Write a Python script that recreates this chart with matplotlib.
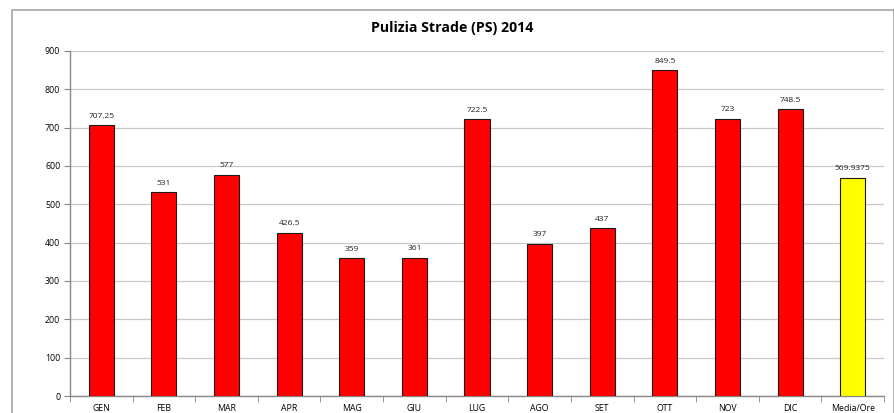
import numpy as np
import matplotlib.pyplot as plt
from matplotlib.patches import Rectangle

mesi = ["GEN", "FEB", "MAR", "APR", "MAG", "GIU", "LUG", "AGO", "SET", "OTT", "NOV", "DIC", "Media/Ore"]
ore = [707.25, 531, 577, 426.5, 359, 361, 722.5, 397, 437, 849.5, 723, 748.5, 569.9375]
etichette = ["707.25", "531", "577", "426.5", "359", "361", "722.5", "397", "437", "849.5", "723", "748.5", "569.9375"]

plt.rcParams['font.family'] = ['Open Sans', 'DejaVu Sans']

W, H = 895, 413
fig = plt.figure(figsize=(W/100, H/100), dpi=100)
ax = fig.add_axes([70/W, 1-396/H, (884-70)/W, (396-51)/H])

# bordo esterno del grafico
fig.patches.append(Rectangle((12/W, -0.1), (894-12)/W, 1.1-10/H, transform=fig.transFigure,
                             fill=False, edgecolor='#a6a6a6', linewidth=1.2))

x = np.arange(len(mesi))
colori = ['#ff0000']*(len(mesi)-1) + ['#ffff00']
ax.bar(x, ore, width=0.4, color=colori, edgecolor='#1a1a1a', linewidth=0.8, zorder=3)

for xi, v, t in zip(x, ore, etichette):
    ax.text(xi, v + 14, t, ha='center', va='bottom', fontsize=6, color='#222222')

ax.set_xlim(-0.5, len(mesi)-0.5)
ax.set_ylim(0, 900)
ax.set_yticks(np.arange(0, 901, 100))
ax.set_xticks(x)
ax.set_xticklabels(mesi, fontsize=6.3)
ax.set_xticks(np.arange(-0.5, len(mesi), 1), minor=True)
ax.tick_params(axis='x', which='major', length=0, pad=6)
ax.tick_params(axis='x', which='minor', length=4, color='#888888')
ax.tick_params(axis='y', labelsize=6.3, length=4, color='#888888', pad=3)
ax.yaxis.grid(True, color='#c8c8c8', linewidth=0.9, zorder=0)
ax.set_axisbelow(True)

for s in ['top', 'right']:
    ax.spines[s].set_visible(False)
for s in ['left', 'bottom']:
    ax.spines[s].set_color('#888888')
    ax.spines[s].set_linewidth(1.0)

fig.text(452/W, 1-28/H, "Pulizia Strade (PS) 2014", ha='center', va='center',
         fontsize=10.2, fontweight='bold')

fig.savefig("out.png", dpi=100)
